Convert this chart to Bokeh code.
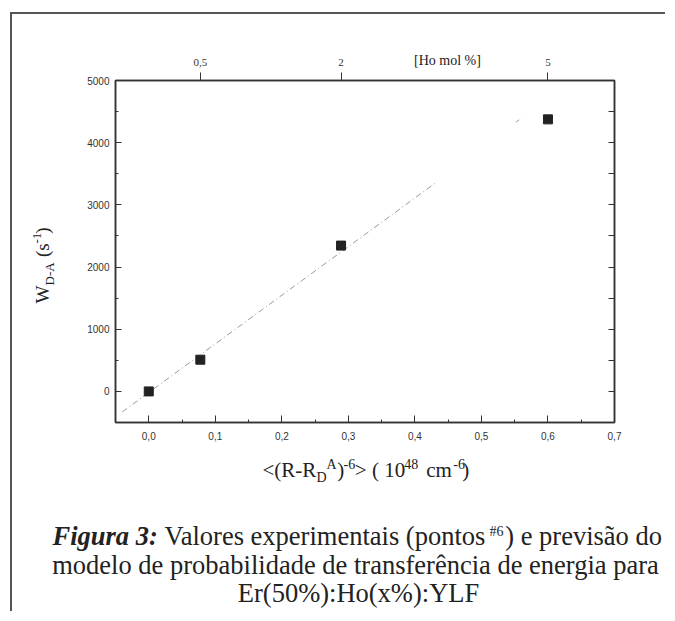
import math
from bokeh.plotting import figure
from bokeh.models import LinearAxis, FixedTicker, Label
from bokeh.embed import file_html
from bokeh.resources import INLINE

# ---- data ----
conc_dist = [0.0, 0.0775, 0.289, 0.600]          # <(R-R_D^A)^-6> (10^48 cm^-6)
w_da = [0.0, 510.0, 2345.0, 4375.0]               # W_D-A (s^-1)
ho_pos = [0.0775, 0.289, 0.600]                  # top axis tick positions
ho_labels = ["0,5", "2", "5"]                     # Ho mol %
model_x = [-0.040, 0.430]                         # model prediction (visible part)
model_y = [-330.0, 3345.0]
model_x2 = [0.552, 0.562]                         # faint fragment near the top
model_y2 = [4330.0, 4410.0]
x_ticks = [0.0, 0.1, 0.2, 0.3, 0.4, 0.5, 0.6, 0.7]
x_tick_labels = ["0,0", "0,1", "0,2", "0,3", "0,4", "0,5", "0,6", "0,7"]
x_minor = [-0.05, 0.05, 0.15, 0.25, 0.35, 0.45, 0.55, 0.65]
y_ticks = [0, 1000, 2000, 3000, 4000, 5000]
y_minor = [-500, 500, 1500, 2500, 3500, 4500]

XMIN, XMAX = -0.05, 0.70
YMIN, YMAX = -500, 5000

# element placement (picture pixels)
OX, OY = 12, 14                 # canvas origin (after margin + border)
W, H = 655, 599
FL, FR, FT, FB = 115, 614, 80, 422   # plot frame in picture pixels

p = figure(width=W, height=H, x_range=(XMIN, XMAX), y_range=(YMIN, YMAX),
           output_backend="svg", toolbar_location=None,
           min_border_left=FL - OX, min_border_right=W - (FR - OX),
           min_border_top=FT - OY, min_border_bottom=H - (FB - OY))
p.styles = {"border-left": "2px solid #555555", "border-top": "2px solid #555555",
            "margin-left": "10px", "margin-top": "12px"}
p.grid.visible = False
p.background_fill_color = "white"
p.border_fill_color = "white"
p.outline_line_color = "#333333"
p.outline_line_width = 1.5

def px2x(px):
    return XMIN + (px - FL) / (FR - FL) * (XMAX - XMIN)

def py2y(py):
    return YMAX - (py - FT) / (FB - FT) * (YMAX - YMIN)

TICK_FONT = "Liberation Sans"
SERIF = "Liberation Serif"
INK = "#222222"

def style_axis(ax, tin, tout, mtin, mtout):
    ax.axis_line_color = "#333333"
    ax.axis_line_width = 1.5
    ax.major_tick_line_color = "#333333"
    ax.minor_tick_line_color = "#333333"
    ax.major_tick_in = tin
    ax.major_tick_out = tout
    ax.minor_tick_in = mtin
    ax.minor_tick_out = mtout
    ax.major_label_text_font = TICK_FONT
    ax.major_label_text_color = "#333333"

# bottom axis
bx = p.xaxis[0]
bx.ticker = FixedTicker(ticks=x_ticks, minor_ticks=x_minor)
bx.major_label_overrides = dict(zip(x_ticks, x_tick_labels))
style_axis(bx, 7, 0, 3, 0)
bx.major_label_text_font_size = "10px"
bx.major_label_standoff = 9

# left axis
ly = p.yaxis[0]
ly.ticker = FixedTicker(ticks=y_ticks, minor_ticks=y_minor)
style_axis(ly, 6, 0, 3, 0)
ly.major_label_text_font_size = "10px"
ly.major_label_standoff = 6

# right axis (ticks only)
ry = LinearAxis(ticker=FixedTicker(ticks=y_ticks, minor_ticks=y_minor))
style_axis(ry, 6, 0, 6, 0)
ry.major_label_overrides = {t: "" for t in y_ticks}
ry.major_label_standoff = 0
p.add_layout(ry, "right")

# top axis (Ho mol %)
tx = LinearAxis(ticker=FixedTicker(ticks=ho_pos))
tx.major_label_overrides = dict(zip(ho_pos, ho_labels))
style_axis(tx, 0, 8, 0, 0)
tx.minor_tick_line_color = None
tx.major_label_text_font = SERIF
tx.major_label_text_font_size = "11px"
tx.major_label_standoff = 7
p.add_layout(tx, "above")

# data
p.line(model_x, model_y, line_color="#9a9a9a", line_width=1, line_dash="6 3 1 3")
p.line(model_x2, model_y2, line_color="#9a9a9a", line_width=1, line_dash="4 4")
p.scatter(conc_dist, w_da, marker="square", size=9, fill_color=INK, line_color=INK)

NB = "\u00a0"
BASE_SHIFT = 0.42   # Bokeh places the label box a bit below the requested baseline

def lab(side, text, px, py, size, align="left", style="normal", rotated=False):
    if rotated:
        px = px - BASE_SHIFT * size
    else:
        py = py - BASE_SHIFT * size
    p.add_layout(Label(x=px2x(px), y=py2y(py), text=text, text_font=SERIF,
                       text_font_size=f"{size}px", text_align=align,
                       text_baseline="alphabetic", text_font_style=style,
                       text_color=INK, angle=(math.pi / 2 if rotated else 0.0)), side)

# top axis title
lab("above", "[Ho mol %]", 447, 66, 14, align="center")

# x axis title: main text + superscripts (below), subscript (right)
X0 = 262
lab("below", "<(R-R" + NB * 4 + ")" + NB * 2 + "> ( 10" + NB * 3 + " cm" + NB * 2 + ")", X0, 478, 21)
lab("below", "A" + NB * 2 + "-6" + NB * 14 + "48" + NB * 10 + "-6", X0 + 64, 470, 14)
lab("right", "D", X0 + 54, 483, 14)

# y axis title (rotated): main + subscript + superscript
lab("left", "W" + NB * 5 + " (s" + NB * 2 + ")", 50, 303, 19, rotated=True)
lab("left", "D-A", 54, 285, 13, rotated=True)
lab("left", "-1", 42, 243, 13, rotated=True)

# caption
CS = 26.5
lab("below", "Figura 3:", 52, 547, CS, style="bold italic")
lab("below", "Valores experimentais (pontos" + NB * 3 + ") e previsão do", 164, 547, CS)
lab("right", "#6", 489, 537, 14)
lab("below", "modelo de probabilidade de transferência de energia para", 355, 576, CS, align="center")
lab("below", "Er(50%):Ho(x%):YLF", 358, 604, CS, align="center")

open("out.html", "w").write(file_html(p, INLINE))
